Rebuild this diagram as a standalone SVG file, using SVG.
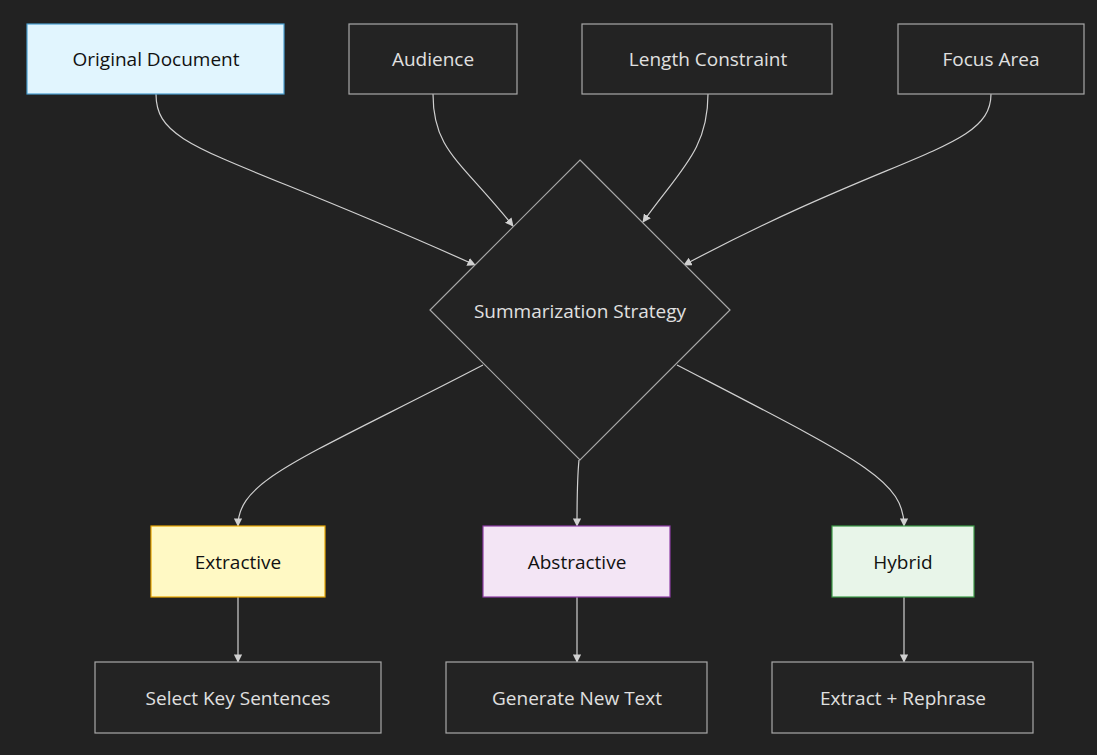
<svg xmlns="http://www.w3.org/2000/svg" width="1097" height="755" viewBox="0 0 1097 755">
<style>
text{font-family:"Open Sans","Liberation Sans",sans-serif;font-size:19px;text-anchor:middle;dominant-baseline:central}
.d rect,.d polygon{fill:#232323;stroke:#a8a8a8;stroke-width:1.2}
.d text{fill:#e0e0e0}
.c text{fill:#111}
#conn path{fill:none;stroke:#d0d0d0;stroke-width:1.2;marker-end:url(#a)}
</style>
<defs><marker id="a" viewBox="0 0 10 10" refX="9" refY="5" markerWidth="7" markerHeight="7" orient="auto"><path d="M0,0L10,5L0,10z" fill="#d0d0d0"/></marker></defs>
<rect width="1097" height="755" fill="#222"/>
<g id="conn">
<path d="M156,94C156,150 220,150 475,265"/>
<path d="M433,94C433,150 460,160 513,226"/>
<path d="M708,94C708,150 680,170 643,222"/>
<path d="M991,94C991,150 900,150 684,265"/>
<path d="M483,365C300,460 238,480 238,526"/>
<path d="M579,460C577,480 577,500 577,526"/>
<path d="M677,365C860,460 904,480 904,526"/>
<path d="M238,597V662"/>
<path d="M577,597V662"/>
<path d="M904,597V662"/>
</g>
<g id="n1" class="c"><rect x="27" y="24" width="257" height="70" fill="#e1f5fe" stroke="#4a9fd0" stroke-width="1.2"/><text x="156" y="59">Original Document</text></g>
<g id="n2" class="d"><rect x="349" y="24" width="168" height="70"/><text x="433" y="59">Audience</text></g>
<g id="n3" class="d"><rect x="582" y="24" width="250" height="70"/><text x="708" y="59">Length Constraint</text></g>
<g id="n4" class="d"><rect x="898" y="24" width="186" height="70"/><text x="991" y="59">Focus Area</text></g>
<g id="n5" class="d"><polygon points="580,160 730,310 580,460 430,310"/><text x="580" y="311">Summarization Strategy</text></g>
<g id="n6" class="c"><rect x="151" y="526" width="174" height="71" fill="#fff9c4" stroke="#e8a500" stroke-width="1.2"/><text x="238" y="562">Extractive</text></g>
<g id="n7" class="c"><rect x="483" y="526" width="187" height="71" fill="#f3e5f5" stroke="#8e3da6" stroke-width="1.2"/><text x="577" y="562">Abstractive</text></g>
<g id="n8" class="c"><rect x="832" y="526" width="142" height="71" fill="#e8f5e9" stroke="#3d9a48" stroke-width="1.2"/><text x="903" y="562">Hybrid</text></g>
<g id="n9" class="d"><rect x="95" y="662" width="286" height="71"/><text x="238" y="698">Select Key Sentences</text></g>
<g id="n10" class="d"><rect x="446" y="662" width="261" height="71"/><text x="577" y="698">Generate New Text</text></g>
<g id="n11" class="d"><rect x="772" y="662" width="261" height="71"/><text x="903" y="698">Extract + Rephrase</text></g>
</svg>
